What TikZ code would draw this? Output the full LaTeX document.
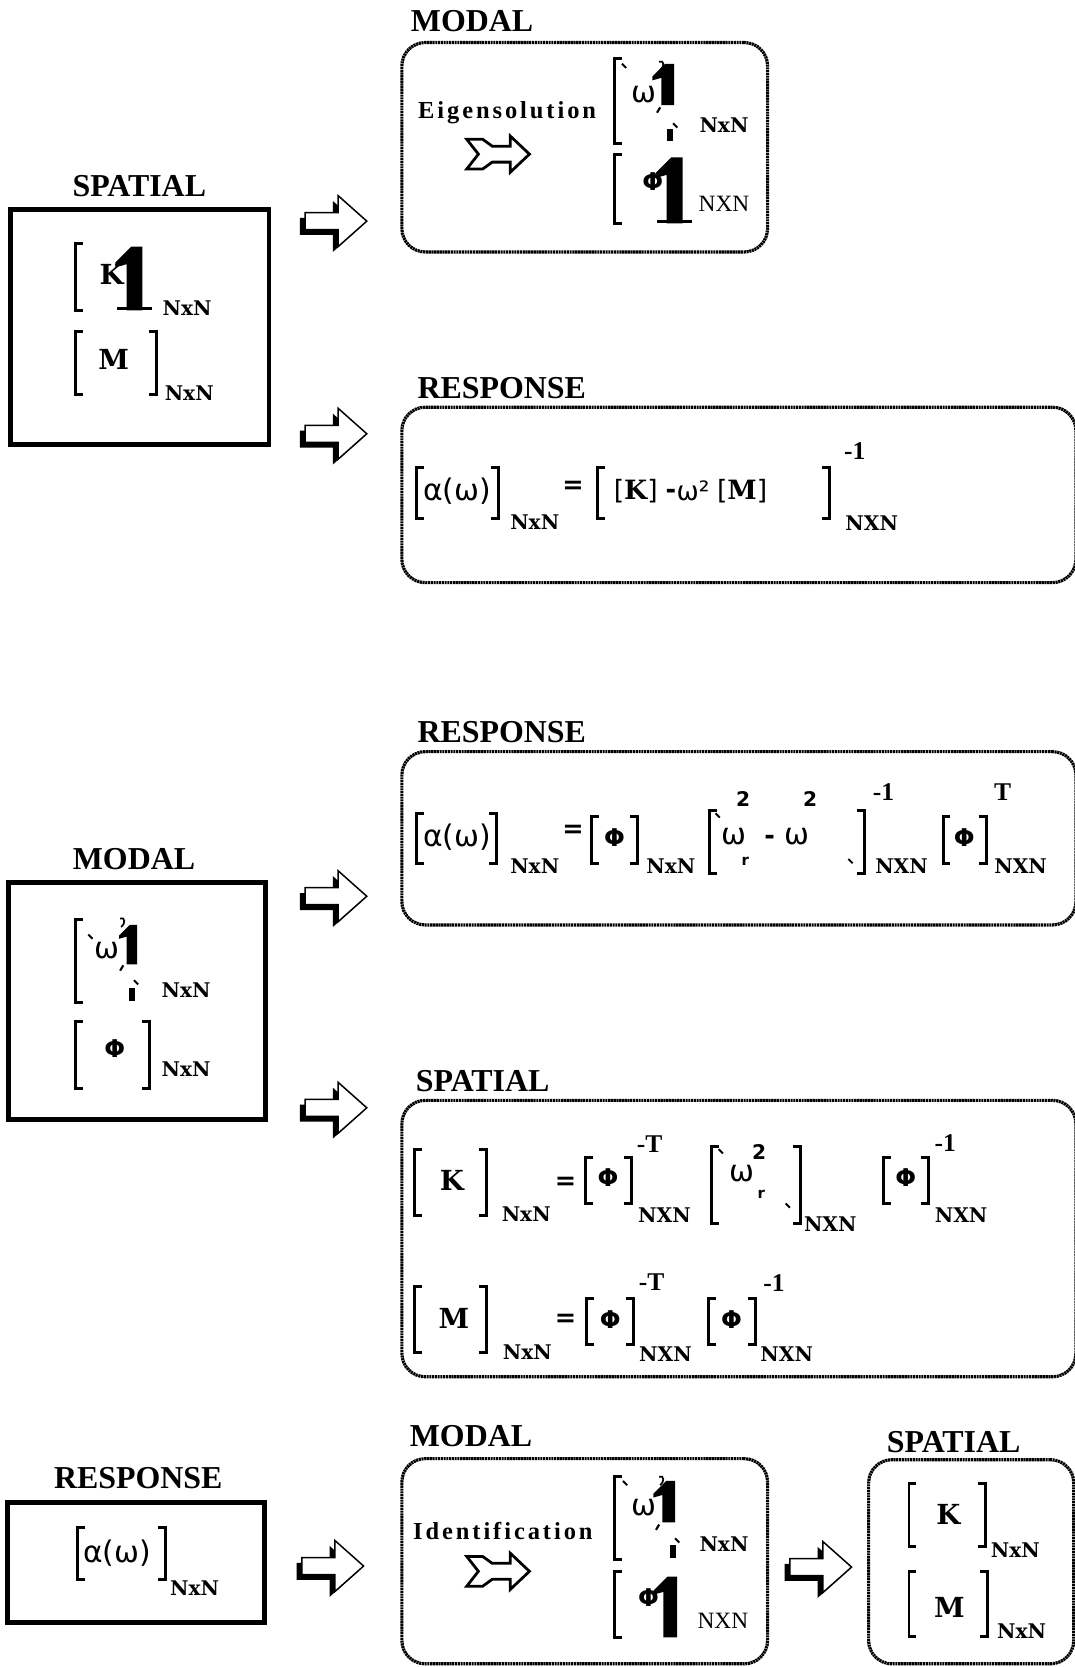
\documentclass[tikz,border=0pt]{standalone}
\usepackage{fontspec}
\setmainfont{Liberation Serif}
\newfontfamily\slabf{DejaVu Serif}
\newfontfamily\gsansf{DejaVu Sans}
\newfontfamily\spacedf[LetterSpace=12]{Liberation Serif}
\newcommand\LBr[3]{\draw[brk] (#1+7,#2) -- (#1,#2) -- (#1,#3) -- (#1+7,#3);}
\newcommand\RBr[3]{\draw[brk] (#1-7,#2) -- (#1,#2) -- (#1,#3) -- (#1-7,#3);}
\newcommand\gone[4]{\fill (#1+#4,#2) -- (#1+#4,#3) -- (#1,#3) -- (#1,#2+1.1*#4) -- (#1-0.7*#4,#2+1.3*#4) -- (#1-0.7*#4,#2+1.0*#4) -- (#1+0.3*#4,#2) -- cycle;}
\newcommand\gfoot[3]{\fill (#1-0.6*#3,#2-0.22*#3) rectangle (#1+1.6*#3,#2);}
\newcommand\grav[2]{\draw[line width=1.8pt] (#1,#2) -- (#1+4,#2+4);}
\newcommand\comm[2]{\draw[line width=2pt] (#1,#2) -- (#1-3,#2+5);}
\newcommand\hook[2]{\draw[line width=1.6pt] (#1,#2) .. controls (#1+5,#2-2) and (#1+5,#2+5) .. (#1+1,#2+8);}
\tikzset{
  hdr/.style={font=\bfseries\fontsize{30}{30}\selectfont, inner sep=0pt},
  sqbox/.style={draw, line width=4.5pt, inner sep=0pt},
  rbox/.style={draw, line width=3pt, rounded corners=22pt, dash pattern=on 2pt off 0.6pt, inner sep=0pt},
  dimsub/.style={font=\slabf\bfseries\fontsize{19}{19}\selectfont, inner sep=0pt},
  dimsubt/.style={font=\fontsize{22}{22}\selectfont, inner sep=0pt},
  matlet/.style={font=\slabf\bfseries\fontsize{26}{26}\selectfont, inner sep=0pt},
  greek/.style={font=\gsansf\fontsize{28}{28}\selectfont, inner sep=0pt},
  greekmid/.style={font=\gsansf\fontsize{25}{25}\selectfont, inner sep=0pt},
  greeksm/.style={font=\gsansf\bfseries\fontsize{23}{23}\selectfont, inner sep=0pt},
  eqsign/.style={font=\gsansf\bfseries\fontsize{24}{24}\selectfont, inner sep=0pt},
  expo/.style={font=\bfseries\fontsize{24}{24}\selectfont, inner sep=0pt},
  twoexp/.style={font=\gsansf\bfseries\fontsize{19}{19}\selectfont, inner sep=0pt},
  smallr/.style={font=\gsansf\bfseries\fontsize{14}{14}\selectfont, inner sep=0pt},
  brk/.style={line width=2.8pt},
  verb/.style={font=\spacedf\bfseries\fontsize{23}{23}\selectfont, inner sep=0pt},
  blockarrow/.pic={
    \fill[black] (-5,-3) -- (26,-3) -- (26,-19) -- (53,5) -- (26,29) -- (26,13) -- (-5,13) -- cycle;
    \filldraw[fill=white, draw=black, line width=1.4pt] (0,-8) -- (31,-8) -- (31,-24) -- (58,0) -- (31,24) -- (31,8) -- (0,8) -- cycle;
  },
  tailarrow/.pic={
    \draw[line width=2.6pt, line join=miter] (0,-14) -- (15,-14) -- (24,-7.5) -- (41,-7.5) -- (41,-17) -- (59,0) -- (41,17) -- (41,7.5) -- (24,7.5) -- (15,14) -- (0,14) -- (11,0) -- cycle;
  }
}
\begin{document}
\begin{tikzpicture}[x=1pt,y=-1pt]
\useasboundingbox (0,0) rectangle (1011,1568);
% ---------------- Section 1 ----------------
\node[hdr] (s1lbl) at (131,175) {SPATIAL};
\node[sqbox, minimum width=243pt, minimum height=221pt] (s1box) at (131.5,307.5) {};
\LBr{71}{229}{292}
\node[matlet] (s1K) at (105,258) {K};
\gone{119}{232}{292}{15}
\gfoot{119}{292}{15}
\node[dimsub] (s1n1) at (176,290) {NxN};
\LBr{71}{312}{371}
\node[matlet] (s1M) at (107,338) {M};
\RBr{147}{312}{371}
\node[dimsub] (s1n2) at (178,370) {NxN};
\pic at (287,208) {blockarrow};
\pic at (287,408) {blockarrow};
% modal box top
\node[hdr] (m1lbl) at (444,20) {MODAL};
\node[rbox, minimum width=344pt, minimum height=197pt] (m1box) at (550,138.5) {};
\node[verb] (m1verb) at (477,106) {Eigensolution};
\pic at (439,145) {tailarrow};
\LBr{578}{55}{135}
\grav{585}{60}
\node[greek] (m1w) at (606,89) {ω};
\hook{620}{58}
\gone{622}{60}{99}{12}
\comm{621}{101}
\grav{633}{116}
\fill (627,121) rectangle (633,133);
\node[dimsub] (m1n1) at (681,118) {NxN};
\LBr{578}{145}{210}
\node[greeksm] (m1phi) at (614,171) {Φ};
\gone{627}{148}{210}{15}
\gfoot{627}{210}{15}
\node[dimsubt] (m1n2) at (681,192) {NXN};
% response top
\node[hdr] (r1lbl) at (472,365) {RESPONSE};
\node[rbox, minimum width=634pt, minimum height=165pt] (r1box) at (695,465.5) {};
\LBr{392}{440}{488}
\node[greek] (r1a) at (430,462) {α(ω)};
\RBr{469}{440}{488}
\node[dimsub] (r1n1) at (503,491) {NxN};
\node[eqsign] (r1eq) at (539,458) {=};
\LBr{562}{440}{488}
\node[greekmid] (r1K) at (598,462) {[{\slabf\bfseries K}]};
\node[eqsign] (r1mi) at (631,465) {-};
\node[greekmid] (r1w) at (652,462) {ω²};
\node[greekmid] (r1M) at (698,462) {[{\slabf\bfseries M}]};
\RBr{780}{440}{488}
\node[expo] (r1inv) at (804,424) {-1};
\node[dimsub] (r1n2) at (820,492) {NXN};
% ---------------- Section 2 ----------------
\node[hdr] (r2lbl) at (472,689) {RESPONSE};
\node[rbox, minimum width=634pt, minimum height=163pt] (r2box) at (695,788.5) {};
\LBr{392}{765}{812}
\node[greek] (r2a) at (430,787) {α(ω)};
\RBr{467}{765}{812}
\node[dimsub] (r2n1) at (503,815) {NxN};
\node[eqsign] (r2eq) at (539,782) {=};
\LBr{556}{768}{812}
\node[greeksm] (r2phi1) at (578,788) {Φ};
\RBr{600}{768}{812}
\node[dimsub] (r2n2) at (631,815) {NxN};
\LBr{667}{762}{822}
\grav{673}{765}
\node[greek] (r2w1) at (690,787) {ω};
\node[twoexp] (r2two1) at (699,752) {2};
\node[smallr] (r2r) at (701,810) {r};
\node[eqsign] (r2mi) at (724,790) {-};
\node[greek] (r2w2) at (750,787) {ω};
\node[twoexp] (r2two2) at (762,752) {2};
\grav{798}{808}
\RBr{813}{762}{822}
\node[expo] (r2inv) at (831,745) {-1};
\node[dimsub] (r2n3) at (848,815) {NXN};
\LBr{887}{768}{812}
\node[greeksm] (r2phi2) at (907,788) {Φ};
\RBr{928}{768}{812}
\node[expo] (r2T) at (943,745) {T};
\node[dimsub] (r2n4) at (960,815) {NXN};
% modal box left
\node[hdr] (m2lbl) at (126,808) {MODAL};
\node[sqbox, minimum width=242pt, minimum height=223pt] (m2box) at (129,941.5) {};
\LBr{71}{865}{943}
\grav{83}{879}
\node[greek] (m2w) at (101,894) {ω};
\hook{113}{864}
\gone{119}{870}{907}{10}
\comm{116}{908}
\grav{126}{922}
\fill (121,929) rectangle (127,942);
\node[dimsub] (m2n1) at (175,931) {NxN};
\LBr{71}{961}{1024}
\node[greeksm] (m2phi) at (108,986) {Φ};
\RBr{141}{961}{1024}
\node[dimsub] (m2n2) at (175,1006) {NxN};
\pic at (287,843) {blockarrow};
\pic at (287,1042) {blockarrow};
% spatial box right
\node[hdr] (s2lbl) at (454,1017) {SPATIAL};
\node[rbox, minimum width=634pt, minimum height=260pt] (s2box) at (695,1165) {};
\LBr{390}{1081}{1143}
\node[matlet] (s2K) at (425,1110) {K};
\RBr{458}{1081}{1143}
\node[dimsub] (s2n1) at (495,1142) {NxN};
\node[eqsign] (s2eq1) at (532,1113) {=};
\LBr{551}{1089}{1132}
\node[greeksm] (s2phi1) at (572,1108) {Φ};
\RBr{594}{1089}{1132}
\node[expo] (s2mt1) at (611,1076) {-T};
\node[dimsub] (s2n2) at (625,1143) {NXN};
\LBr{669}{1078}{1151}
\grav{676}{1081}
\node[greek] (s2w) at (698,1104) {ω};
\node[twoexp] (s2two) at (714,1084) {2};
\node[smallr] (s2r) at (716,1123) {r};
\grav{739}{1132}
\RBr{753}{1078}{1151}
\node[dimsub] (s2n3) at (781,1151) {NXN};
\LBr{831}{1089}{1132}
\node[greeksm] (s2phi2) at (852,1108) {Φ};
\RBr{873}{1089}{1132}
\node[expo] (s2inv1) at (889,1075) {-1};
\node[dimsub] (s2n4) at (904,1143) {NXN};
\LBr{390}{1210}{1272}
\node[matlet] (s2M) at (427,1240) {M};
\RBr{458}{1210}{1272}
\node[dimsub] (s2n5) at (496,1272) {NxN};
\node[eqsign] (s2eq2) at (532,1242) {=};
\LBr{552}{1221}{1265}
\node[greeksm] (s2phi3) at (574,1241) {Φ};
\RBr{596}{1221}{1265}
\node[expo] (s2mt2) at (613,1206) {-T};
\node[dimsub] (s2n6) at (626,1274) {NXN};
\LBr{666}{1221}{1265}
\node[greeksm] (s2phi4) at (688,1241) {Φ};
\RBr{711}{1221}{1265}
\node[expo] (s2inv2) at (728,1207) {-1};
\node[dimsub] (s2n7) at (740,1274) {NXN};
% ---------------- Section 3 ----------------
\node[hdr] (r3lbl) at (130,1390) {RESPONSE};
\node[sqbox, minimum width=242pt, minimum height=113pt] (r3box) at (128,1469.5) {};
\LBr{73}{1437}{1486}
\node[greek] (r3a) at (110,1461) {α(ω)};
\RBr{156}{1437}{1486}
\node[dimsub] (r3n1) at (183,1494) {NxN};
\pic at (284,1473) {blockarrow};
\node[hdr] (m3lbl) at (443,1351) {MODAL};
\node[rbox, minimum width=344pt, minimum height=193pt] (m3box) at (550,1468.5) {};
\node[verb] (m3verb) at (473,1440) {Identification};
\pic at (439,1478) {tailarrow};
\LBr{578}{1389}{1467}
\grav{586}{1393}
\node[greek] (m3w) at (606,1418) {ω};
\hook{620}{1389}
\gone{623}{1393}{1432}{12}
\comm{620}{1434}
\grav{635}{1447}
\fill (630,1453) rectangle (636,1465);
\node[dimsub] (m3n1) at (681,1452) {NxN};
\LBr{578}{1478}{1540}
\node[greeksm] (m3phi) at (610,1503) {Φ};
\gone{624}{1483}{1540}{13}
\node[dimsubt] (m3n2) at (680,1525) {NXN};
\pic at (743,1474) {blockarrow};
\node[hdr] (s3lbl) at (897,1356) {SPATIAL};
\node[rbox, minimum width=193pt, minimum height=192pt] (s3box) at (913.5,1469) {};
\LBr{855}{1395}{1455}
\node[matlet] (s3K) at (892,1424) {K};
\RBr{927}{1395}{1455}
\node[dimsub] (s3n1) at (955,1458) {NxN};
\LBr{855}{1478}{1539}
\node[matlet] (s3M) at (893,1512) {M};
\RBr{929}{1478}{1539}
\node[dimsub] (s3n2) at (961,1534) {NxN};
\end{tikzpicture}
\end{document}
